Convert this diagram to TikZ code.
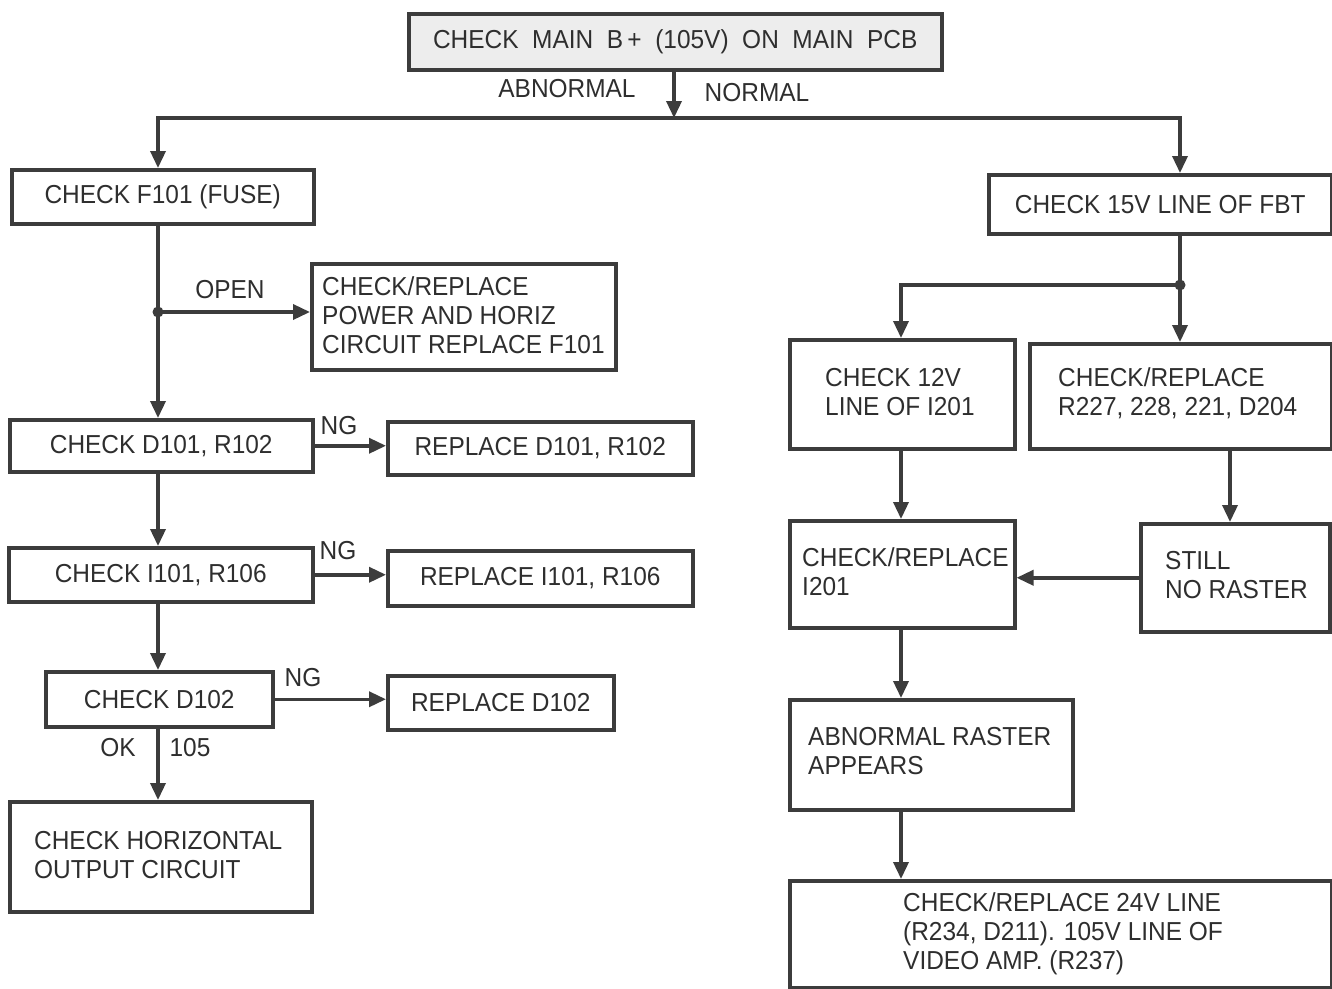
\documentclass[tikz,border=0pt]{standalone}
\usepackage{fontspec}
\setmainfont{Liberation Sans}[FakeStretch=0.94]
\usetikzlibrary{arrows.meta}
\definecolor{lc}{HTML}{3C3C3C}
\definecolor{tc}{HTML}{2E2E2E}
\newcommand{\fs}{\fontsize{26}{29}\selectfont}
\tikzset{
  box/.style={draw=lc, line width=3.5pt, fill=white, inner sep=0pt, anchor=north west, text=tc, font=\fs, line join=miter},
  txt/.style={text=tc, font=\fs, align=left, inner sep=0pt, anchor=west},
  lbl/.style={text=tc, font=\fs, inner sep=0pt},
  arr/.style={draw=lc, line width=3.5pt, line join=miter, -{Triangle[length=17pt,width=15pt]}},
  ln/.style={draw=lc, line width=3.5pt, line join=miter},
}
\begin{document}
\begin{tikzpicture}[x=1pt,y=-1pt]
\useasboundingbox (0,0) rectangle (1332,988);
\fill[white] (0,0) rectangle (1332,988);
% boxes
\node[box, fill=gray!14, minimum width=533pt, minimum height=56pt] (top) at (407,12) {CHECK \ MAIN \ B\,+ \ (105V) \ ON \ MAIN \ PCB};
\node[box, minimum width=302pt, minimum height=54pt] (f101) at (10,168) {CHECK F101 (FUSE)};
\node[box, minimum width=304pt, minimum height=106pt] (open) at (310,262) {};
\node[txt] (topen) at (322,315) {CHECK/REPLACE\\POWER AND HORIZ\\CIRCUIT REPLACE F101};
\node[box, minimum width=303pt, minimum height=52pt] (d101) at (8,418) {CHECK D101, R102};
\node[box, minimum width=305pt, minimum height=53pt] (rd101) at (386,420) {REPLACE D101, R102};
\node[box, minimum width=304pt, minimum height=54pt] (i101) at (7,546) {CHECK I101, R106};
\node[box, minimum width=305pt, minimum height=55pt] (ri101) at (386,549) {REPLACE I101, R106};
\node[box, minimum width=227pt, minimum height=55pt] (d102) at (44,670) {CHECK D102};
\node[box, minimum width=226pt, minimum height=54pt] (rd102) at (386,674) {REPLACE D102};
\node[box, minimum width=302pt, minimum height=110pt] (horiz) at (8,800) {};
\node[txt] (thoriz) at (34,855) {CHECK HORIZONTAL\\OUTPUT CIRCUIT};
\node[box, minimum width=343pt, minimum height=59pt] (fbt) at (987,173) {CHECK 15V LINE OF FBT};
\node[box, minimum width=225pt, minimum height=109pt] (v12) at (788,338) {};
\node[txt] (tv12) at (825,392) {CHECK 12V\\LINE OF I201};
\node[box, minimum width=302pt, minimum height=105pt] (r227) at (1028,342) {};
\node[txt] (tr227) at (1058,393) {CHECK/REPLACE\\R227, 228, 221, D204};
\node[box, minimum width=225pt, minimum height=107pt] (i201) at (788,519) {};
\node[txt] (ti201) at (802,572) {CHECK/REPLACE\\I201};
\node[box, minimum width=189pt, minimum height=108pt] (still) at (1139,522) {};
\node[txt] (tstill) at (1165,575) {STILL\\NO RASTER};
\node[box, minimum width=283pt, minimum height=110pt] (abn) at (788,698) {};
\node[txt] (tabn) at (808,751) {ABNORMAL RASTER\\APPEARS};
\node[box, minimum width=542pt, minimum height=107pt] (last) at (788,879) {};
\node[txt] (tlast) at (903,934) {CHECK/REPLACE 24V LINE\\(R234, D211). 105V LINE OF\\VIDEO AMP. (R237)};
% coordinates
\coordinate (jt) at (674,118);
\coordinate (jl) at (158,118);
\coordinate (jr) at (1180,118);
\coordinate (jo) at (158,312);
\coordinate (jf) at (1180,285);
\coordinate (jv) at (901,285);
\coordinate (xs) at (1230,0);
% connectors
\draw[arr] (top.south -| jt) -- (jt);
\draw[arr] (jt) -- (jl) -- (jl |- f101.north);
\draw[arr] (jt) -- (jr) -- (jr |- fbt.north);
\draw[arr] (jl |- f101.south) -- (jl |- d101.north);
\draw[arr] (jo) -- (jo -| open.west);
\fill[lc] (jo) circle (5.5pt);
\draw[arr] (jl |- d101.south) -- (jl |- i101.north);
\draw[arr] (jl |- i101.south) -- (jl |- d102.north);
\draw[arr] (jl |- d102.south) -- (jl |- horiz.north);
\draw[arr] (d101.east) -- (d101.east -| rd101.west);
\draw[arr] (i101.east) -- (i101.east -| ri101.west);
\draw[arr] (d102.east) -- (d102.east -| rd102.west);
\draw[ln] (fbt.south -| jf) -- (jf);
\draw[arr] (jf) -- (jf |- r227.north);
\draw[arr] (jf) -- (jv) -- (jv |- v12.north);
\fill[lc] (jf) circle (5.5pt);
\draw[arr] (jv |- v12.south) -- (jv |- i201.north);
\draw[arr] (xs |- r227.south) -- (xs |- still.north);
\draw[arr] (still.west) -- (still.west -| i201.east);
\draw[arr] (jv |- i201.south) -- (jv |- abn.north);
\draw[arr] (jv |- abn.south) -- (jv |- last.north);
% labels
\node[lbl] (labn) at (567,89) {ABNORMAL};
\node[lbl] (lnor) at (757,93) {NORMAL};
\node[lbl] (lopen) at (230,290) {OPEN};
\node[lbl] (lng1) at (339,426) {NG};
\node[lbl] (lng2) at (338,551) {NG};
\node[lbl] (lng3) at (303,678) {NG};
\node[lbl] (lok) at (118,748) {OK};
\node[lbl] (l105) at (190,748) {105};
\end{tikzpicture}
\end{document}
